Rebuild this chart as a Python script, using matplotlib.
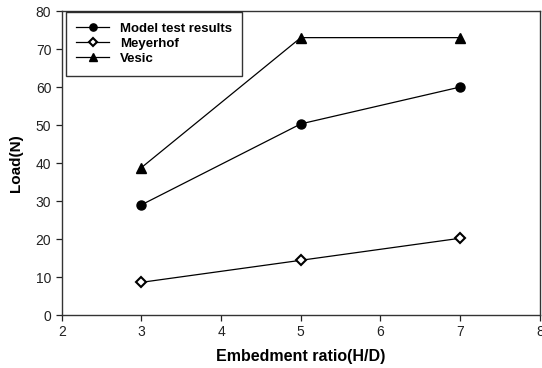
import matplotlib
matplotlib.use("Agg")
import matplotlib.pyplot as plt

plt.rcParams['font.family'] = ['Liberation Sans', 'DejaVu Sans']

x = [3, 5, 7]
model = [29.0, 50.3, 60.0]
meyerhof = [8.6, 14.4, 20.2]
vesic = [38.8, 73.0, 73.0]
xticks = [2, 3, 4, 5, 6, 7, 8]
yticks = [0, 10, 20, 30, 40, 50, 60, 70, 80]

fig = plt.figure(figsize=(5.42, 3.68), dpi=100)
ax = fig.add_axes([0.114, 0.144, 0.882, 0.826])

lw = 0.9
ax.plot(x, model, color='black', lw=lw, marker='o', ms=6.5, label='Model test results')
ax.plot(x, meyerhof, color='black', lw=lw, marker='D', ms=5, mfc='white', mew=1.5, label='Meyerhof')
ax.plot(x, vesic, color='black', lw=lw, marker='^', ms=6.5, label='Vesic')

ax.set_xlim(2, 8)
ax.set_ylim(0, 80)
ax.set_xticks(xticks)
ax.set_yticks(yticks)
ax.tick_params(direction='out', length=4, labelsize=10, width=0.9, colors='#222222')
for s in ax.spines.values():
    s.set_linewidth(1.0)
    s.set_color('#333333')

ax.set_xlabel('Embedment ratio(H/D)', fontsize=11.5, fontweight='bold', labelpad=7)
ax.set_ylabel('Load(N)', fontsize=11, fontweight='bold', labelpad=9)

leg = ax.legend(loc='upper left', bbox_to_anchor=(0.008, 0.997), frameon=True, fancybox=False,
                edgecolor='black', prop={'weight': 'bold', 'size': 9.5}, markerscale=0.8,
                handlelength=2.5, borderpad=0.8, labelspacing=0.22, handletextpad=0.8, borderaxespad=0.0)
leg.get_frame().set_linewidth(1.0)

fig.savefig('out.png', dpi=100)
